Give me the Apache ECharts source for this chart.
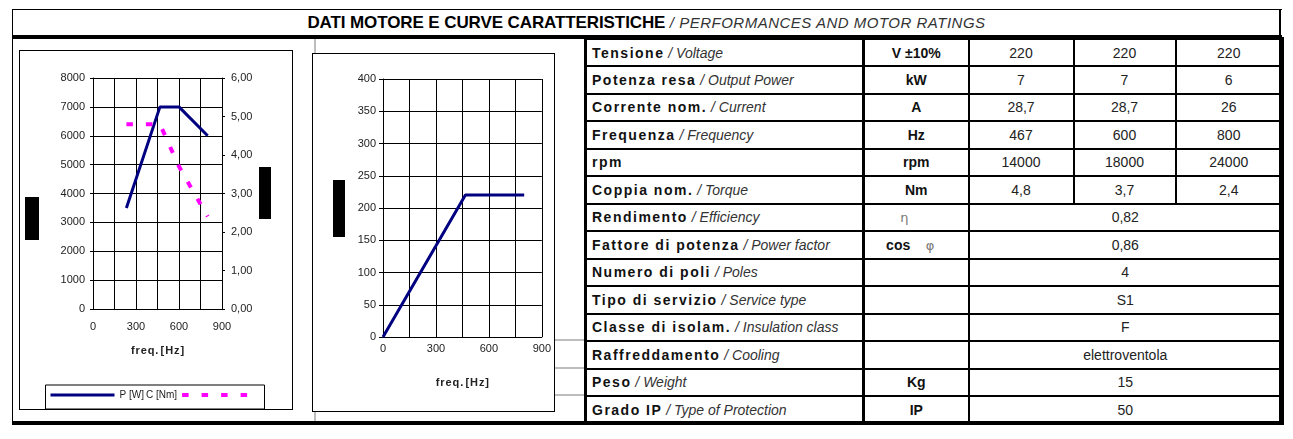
<!DOCTYPE html>
<html>
<head>
<meta charset="utf-8">
<script src="https://cdn.jsdelivr.net/npm/echarts@6/dist/echarts.min.js"></script>
<style>
html, body { margin: 0; padding: 0; background: #fff; width: 1293px; height: 439px; overflow: hidden;
  font-family: "Liberation Sans", Arial, sans-serif; }
.ln { position: absolute; background: #000; }
.gr { position: absolute; background: #bdbdbd; }
#title { position: absolute; left: 12px; top: 10px; width: 1269px; height: 25px; line-height: 25px;
  text-align: center; white-space: nowrap; }
#title b { font-size: 17px; letter-spacing: -0.1px; color: #000; }
#title i { font-size: 15px; color: #333; letter-spacing: 0.5px; }
.box { position: absolute; border: 1px solid #000; box-sizing: border-box; background: #fff; }
.box > div { width: 100%; height: 100%; }
#tab { position: absolute; left: 584px; top: 37px; width: 697px; border-collapse: collapse; table-layout: fixed;
  border: 3px solid #000; }
#tab td { border: 2px solid #000; padding: 0; font-size: 14px; color: #222; text-align: center; white-space: nowrap; }
#tab tr { height: 27.5px; }
#tab td.lab { text-align: left; padding-left: 5px; border-right: 3px solid #000; }
#tab td.lab b { letter-spacing: 1.5px; color: #111; }
#tab td.lab i { color: #333; }
#tab td.unit { font-weight: bold; color: #111; }
.sym { font-weight: normal; color: #777; font-family: "DejaVu Sans", sans-serif; font-size: 13px; }
</style>
</head>
<body>
<div class="ln" style="left:12px;top:9px;width:1270px;height:1px"></div>
<div class="ln" style="left:12px;top:9px;width:1px;height:415px"></div>
<div class="ln" style="left:1279px;top:9px;width:2px;height:415px"></div>
<div class="ln" style="left:12px;top:35px;width:1270px;height:4px"></div>
<div class="ln" style="left:12px;top:421px;width:1270px;height:4px"></div>
<div class="gr" style="left:314px;top:39px;width:2px;height:14px"></div>
<div class="gr" style="left:314px;top:411px;width:2px;height:10px"></div>
<div class="gr" style="left:555px;top:339px;width:30px;height:2px"></div>
<div class="gr" style="left:555px;top:367px;width:30px;height:2px"></div>
<div class="gr" style="left:555px;top:394px;width:30px;height:2px"></div>
<div id="title"><b>DATI MOTORE E CURVE CARATTERISTICHE</b> <i>/ PERFORMANCES AND MOTOR RATINGS</i></div>

<div class="box" style="left:19px;top:50px;width:274px;height:360px"><div id="c1"></div></div>
<div class="box" style="left:312px;top:53px;width:243px;height:359px"><div id="c2"></div></div>

<table id="tab">
  <colgroup><col style="width:278px"><col style="width:105px"><col style="width:105px"><col style="width:102px"><col style="width:107px"></colgroup>
  <tbody id="tb"></tbody>
</table>

<script>
// power / torque vs frequency (left chart)
const freqP = [233, 467, 600, 800];
const powerP = [3500, 7000, 7000, 6000];
const freqC = [233, 467, 600, 800];
const torqueC = [4.8, 4.8, 3.7, 2.4];
// voltage vs frequency (middle chart)
const freqV = [0, 467, 800];
const voltV = [0, 220, 220];
const freqTicks = [0, 300, 600, 900];

// motor ratings table
const rowIt = ['Tensione', 'Potenza resa', 'Corrente nom.', 'Frequenza', 'rpm', 'Coppia nom.', 'Rendimento',
  'Fattore di potenza', 'Numero di poli', 'Tipo di servizio', 'Classe di isolam.', 'Raffreddamento', 'Peso', 'Grado IP'];
const rowEn = ['Voltage', 'Output Power', 'Current', 'Frequency', '', 'Torque', 'Efficiency',
  'Power factor', 'Poles', 'Service type', 'Insulation class', 'Cooling', 'Weight', 'Type of Protection'];
const units = ['V ±10%', 'kW', 'A', 'Hz', 'rpm', 'Nm', 'η', 'cos φ', '', '', '', '', 'Kg', 'IP'];
const values = [
  ['220', '220', '220'], ['7', '7', '6'], ['28,7', '28,7', '26'], ['467', '600', '800'],
  ['14000', '18000', '24000'], ['4,8', '3,7', '2,4'], ['0,82'], ['0,86'], ['4'], ['S1'], ['F'],
  ['elettroventola'], ['15'], ['50']
];

const tb = document.getElementById('tb');
rowIt.forEach((it, i) => {
  const tr = document.createElement('tr');
  let lab = '<b>' + it + '</b>';
  if (rowEn[i]) lab += ' <i>/ ' + rowEn[i] + '</i>';
  let u = units[i];
  if (u === 'η') u = '<span class="sym" style="position:relative;left:-12px">η</span>';
  else if (u === 'cos φ') u = '<span style="position:relative;left:-6px">cos&nbsp;&nbsp;&nbsp;&nbsp;<span class="sym">φ</span></span>';
  let html = '<td class="lab">' + lab + '</td><td class="unit">' + u + '</td>';
  const v = values[i];
  if (v.length === 1) html += '<td colspan="3">' + v[0] + '</td>';
  else html += v.map(x => '<td>' + x + '</td>').join('');
  tr.innerHTML = html;
  tb.appendChild(tr);
});

const font = 'Liberation Sans, Arial, sans-serif';
const freqName = 'f\u200Ar\u200Ae\u200Aq\u200A.\u2009[\u200AH\u200Az\u200A]';
const fmtX = v => freqTicks.includes(v) ? String(v) : '';

const c1 = echarts.init(document.getElementById('c1'));
c1.setOption({
  animation: false,
  textStyle: { fontFamily: font },
  grid: { left: 73, top: 27, width: 129, height: 231 },
  legend: [
    { data: ['P [W]'], left: 29, top: 339, padding: 0, itemWidth: 64, itemHeight: 4,
      itemStyle: { opacity: 0 }, lineStyle: { width: 3 },
      textStyle: { fontSize: 10, color: '#222', fontFamily: font } },
    { data: ['C [Nm]'], left: 126, top: 339, padding: 0, align: 'right', itemWidth: 66, itemHeight: 4,
      itemStyle: { opacity: 0 }, lineStyle: { width: 4 },
      textStyle: { fontSize: 10, color: '#222', fontFamily: font } }
  ],
  graphic: [
    { type: 'rect', shape: { x: 25.5, y: 334, width: 219, height: 24 }, style: { fill: 'none', stroke: '#000', lineWidth: 1 } },
    { type: 'rect', shape: { x: 5, y: 146, width: 14, height: 43 }, style: { fill: '#000' } },
    { type: 'rect', shape: { x: 239, y: 116, width: 12, height: 52 }, style: { fill: '#000' } }
  ],
  xAxis: {
    type: 'value', min: 0, max: 900, interval: 150,
    name: freqName, nameLocation: 'middle', nameGap: 36,
    nameTextStyle: { fontWeight: 'bold', fontSize: 11, color: '#222' },
    axisLine: { lineStyle: { color: '#000' } }, axisTick: { show: false },
    splitLine: { lineStyle: { color: '#000', width: 1 } },
    axisLabel: { color: '#222', fontSize: 11, margin: 12, formatter: fmtX }
  },
  yAxis: [
    { type: 'value', min: 0, max: 8000, interval: 1000,
      axisLine: { show: true, lineStyle: { color: '#000' } }, axisTick: { show: true, length: 3, lineStyle: { color: '#000' } },
      splitLine: { lineStyle: { color: '#000', width: 1 } },
      axisLabel: { color: '#222', fontSize: 11, margin: 8, formatter: v => String(v) } },
    { type: 'value', min: 0, max: 6, interval: 1, position: 'right',
      axisLine: { show: true, lineStyle: { color: '#000' } }, axisTick: { show: true, length: 3, lineStyle: { color: '#000' } },
      splitLine: { show: false },
      axisLabel: { color: '#222', fontSize: 11, margin: 9, formatter: v => v.toFixed(2).replace('.', ',') } }
  ],
  series: [
    { name: 'P [W]', type: 'line', symbol: 'none', color: '#000080',
      lineStyle: { color: '#000080', width: 3 },
      data: freqP.map((f, i) => [f, powerP[i]]) },
    { name: 'C [Nm]', type: 'line', yAxisIndex: 1, symbol: 'none', color: '#ff00ff',
      lineStyle: { color: '#ff00ff', width: 4, type: [6.5, 13] },
      data: freqC.map((f, i) => [f, torqueC[i]]) }
  ]
});

const c2 = echarts.init(document.getElementById('c2'));
c2.setOption({
  animation: false,
  textStyle: { fontFamily: font },
  grid: { left: 70, top: 25, width: 161, height: 258 },
  graphic: [
    { type: 'rect', shape: { x: 20, y: 126, width: 12, height: 57 }, style: { fill: '#000' } }
  ],
  xAxis: {
    type: 'value', min: 0, max: 900, interval: 150,
    name: freqName, nameLocation: 'middle', nameGap: 40,
    nameTextStyle: { fontWeight: 'bold', fontSize: 11, color: '#222' },
    axisLine: { lineStyle: { color: '#000' } }, axisTick: { show: false },
    splitLine: { lineStyle: { color: '#000', width: 1 } },
    axisLabel: { color: '#222', fontSize: 11, margin: 6, formatter: fmtX }
  },
  yAxis: {
    type: 'value', min: 0, max: 400, interval: 50,
    axisLine: { show: true, lineStyle: { color: '#000' } }, axisTick: { show: true, length: 4, lineStyle: { color: '#000' } },
    splitLine: { lineStyle: { color: '#000', width: 1 } },
    axisLabel: { color: '#222', fontSize: 11, margin: 7 }
  },
  series: [
    { name: 'V', type: 'line', symbol: 'none', color: '#000080',
      lineStyle: { color: '#000080', width: 3 },
      data: freqV.map((f, i) => [f, voltV[i]]) }
  ]
});
</script>
</body>
</html>
